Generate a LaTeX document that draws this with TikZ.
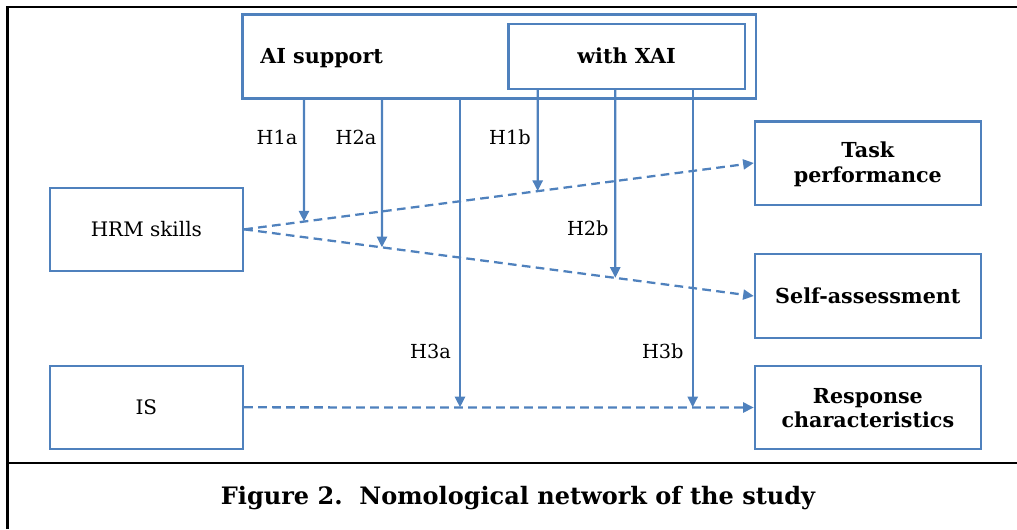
\documentclass[tikz,border=0pt]{standalone}
\usepackage{fontspec}
\setmainfont{DejaVu Serif}
\usetikzlibrary{arrows.meta,fit}
\definecolor{boxblue}{HTML}{4F81BD}
\tikzset{
  box/.style={draw=boxblue, line width=1.8pt, inner sep=0pt},
  hlbl/.style={font=\fontsize{14.5}{17}\selectfont},
  lbl/.style={font=\fontsize{15}{18}\selectfont, align=center},
  blbl/.style={font=\fontsize{15.5}{18.5}\selectfont\bfseries, align=center},
  arr/.style={draw=boxblue, line width=1.7pt, -{Triangle[length=8pt,width=7.5pt]}},
  darr/.style={arr, dash pattern=on 6.5pt off 4pt},
  frame/.style={line width=1.8pt, draw=black}
}
\begin{document}
\begin{tikzpicture}[x=0.75pt,y=-0.75pt]
\useasboundingbox (0,0) rectangle (1017,529);
% outer frame
\draw[frame] (7.3,529) -- (7.3,6.7) -- (1017,6.7);
\draw[frame] (7.3,462.7) -- (1017,462.7);
% boxes
\node[box, fit={(242.3,14.3) (755.7,98.3)}] (ai) {};
\node[blbl, anchor=base west, inner sep=0pt] (aitext) at (260,63.5) {AI support};
\node[box, fit={(508.3,23.7) (745,88.7)}] (xai) {};
\node[blbl] (xaitext) at (xai.center) {with XAI};
\node[box, fit={(49.7,187.7) (243,271)}] (hrm) {};
\node[lbl] (hrmtext) at (hrm.center) {HRM skills};
\node[box, fit={(49.7,365.7) (243,449)}] (is) {};
\node[lbl] (istext) at (is.center) {IS};
\node[box, fit={(755,121.3) (980.7,204.7)}] (task) {};
\node[blbl] (tasktext) at ([yshift=-1pt]task.center) {Task\\performance};
\node[box, fit={(755,254) (980.7,338)}] (self) {};
\node[blbl] (selftext) at (self.center) {Self-assessment};
\node[box, fit={(755,366) (980.7,449)}] (resp) {};
\node[blbl] (resptext) at ([yshift=-0.5pt]resp.center) {Response\\characteristics};
% dashed paths
\draw[darr] (hrm.east) -- (task.west);
\draw[darr] (hrm.east) -- (self.west);
\draw[darr] (is.east) -- (resp.west);
% x positions of moderator arrows
\coordinate (x1a) at (304,0);
\coordinate (x2a) at (382,0);
\coordinate (x3a) at (460,0);
\coordinate (x1b) at (537.7,0);
\coordinate (x2b) at (615.3,0);
\coordinate (x3b) at (692.7,0);
\coordinate (t1a) at (x1a |- ai.south);
\coordinate (b1a) at (x1a |- is.south);
\coordinate (t2a) at (x2a |- ai.south);
\coordinate (b2a) at (x2a |- is.south);
\coordinate (t1b) at (x1b |- xai.south);
\coordinate (b1b) at (x1b |- is.south);
\coordinate (t2b) at (x2b |- xai.south);
\coordinate (b2b) at (x2b |- is.south);
\draw[arr] (t1a) -- (intersection of t1a--b1a and hrm.east--task.west);
\draw[arr] (t2a) -- (intersection of t2a--b2a and hrm.east--self.west);
\draw[arr] (x3a |- ai.south) -- (x3a |- is.east);
\draw[arr] (t1b) -- (intersection of t1b--b1b and hrm.east--task.west);
\draw[arr] (t2b) -- (intersection of t2b--b2b and hrm.east--self.west);
\draw[arr] (x3b |- xai.south) -- (x3b |- is.east);
% labels
\node[hlbl] (h1a) at (277,137) {H1a};
\node[hlbl] (h2a) at (356,137) {H2a};
\node[hlbl] (h1b) at (510,137) {H1b};
\node[hlbl] (h2b) at (587.8,228.5) {H2b};
\node[hlbl] (h3a) at (430.5,351) {H3a};
\node[hlbl] (h3b) at (662.8,351) {H3b};
% caption
\node[font=\fontsize{18}{22}\selectfont\bfseries] (cap) at (518,498) {Figure 2.\ \ Nomological network of the study};
\end{tikzpicture}
\end{document}
